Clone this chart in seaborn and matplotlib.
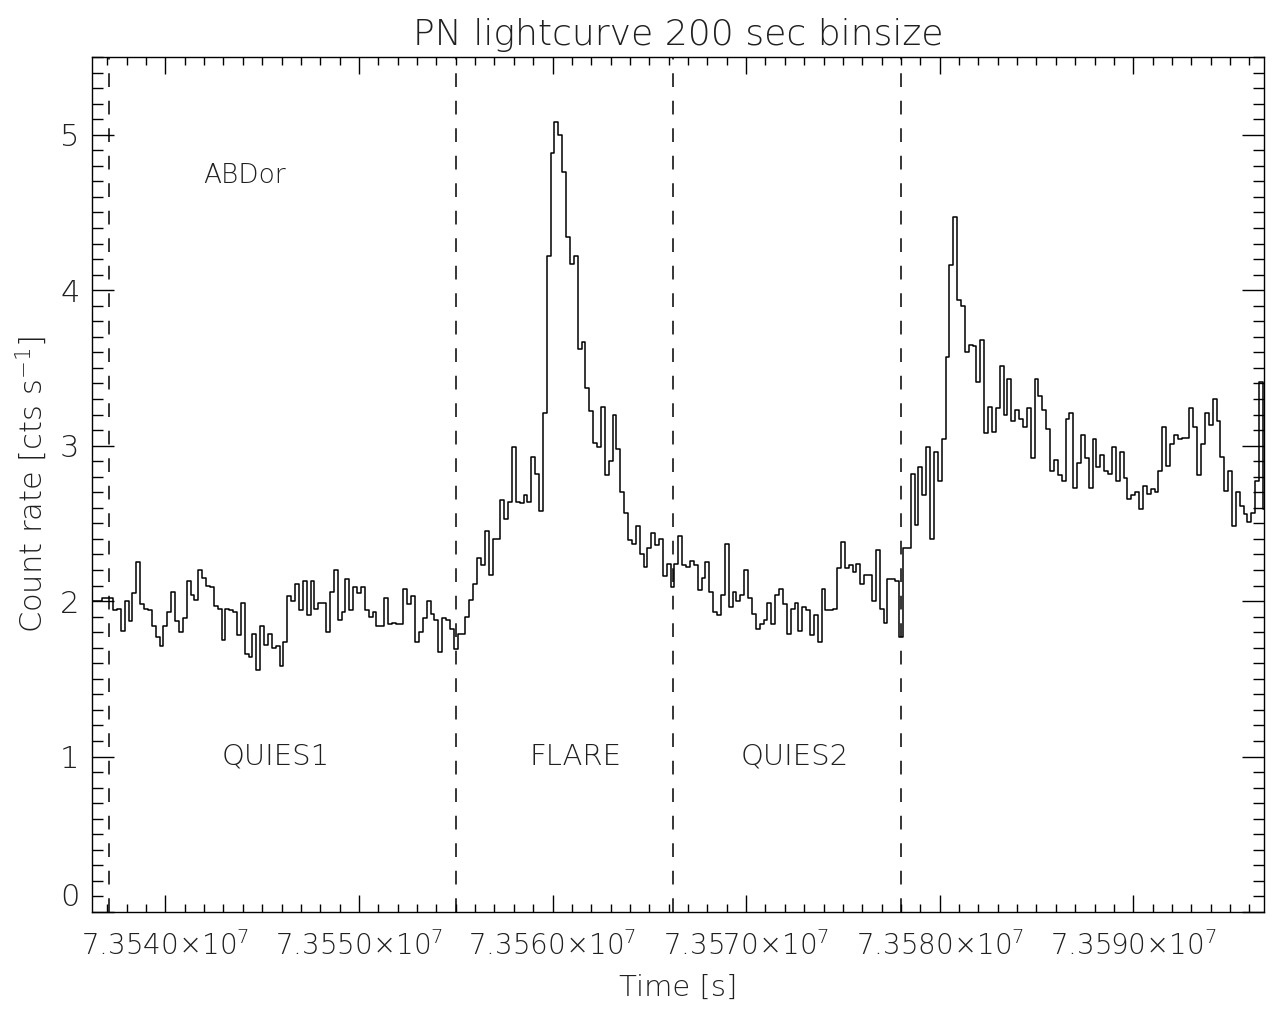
"""PN lightcurve of AB Dor, 200 s bins, redrawn with seaborn."""

import numpy as np
import pandas as pd
import matplotlib

matplotlib.use("Agg")
import matplotlib.pyplot as plt
import matplotlib.ticker as mticker
import seaborn as sns

# bin size of the light curve [s]
bin_size = 200.0
# time of the first data point (lead-in) and start of the regular bins [s]
lead_time = 7.35362e7
first_bin_start = 7.35371e7

# count rates [cts/s], in time order
rate_lead = [2.00, 2.02]
rate_quies1 = [
    1.94, 1.95, 1.81, 2.00, 1.87, 2.05, 2.25, 1.98, 1.95, 1.94,
    1.84, 1.77, 1.71, 1.84, 1.93, 2.06, 1.87, 1.80, 1.89, 2.13,
    2.04, 2.01, 2.20, 2.15, 2.10, 2.09, 1.97, 1.95, 1.75, 1.95,
    1.94, 1.93, 1.78, 1.99, 1.66, 1.64, 1.79, 1.56, 1.84, 1.72,
    1.79, 1.70, 1.71, 1.58, 1.74, 2.03, 2.00, 2.11, 1.94, 2.13,
    1.91, 2.13, 1.95, 1.99, 1.99, 1.80, 2.06, 2.20, 1.88, 1.93,
    2.14, 1.94, 2.09, 2.05, 2.09, 1.94, 1.90, 1.93, 1.84, 1.84,
    2.02, 1.85,
]
rate_flare = [
    1.86, 1.85, 1.85, 2.08, 1.98, 2.03, 1.74, 1.80, 1.89, 2.00,
    1.92, 1.88, 1.67, 1.89, 1.88, 1.82, 1.69, 1.79, 1.79, 1.90,
    2.01, 2.11, 2.28, 2.23, 2.45, 2.17, 2.40, 2.40, 2.65, 2.53,
    2.64, 2.99, 2.64, 2.63, 2.68, 2.64, 2.93, 2.82, 2.58, 3.21,
    4.22, 4.88, 5.08, 5.00, 4.76, 4.34, 4.17, 4.22, 3.62, 3.67,
    3.37, 3.22, 3.02, 2.99, 3.25, 2.81, 2.90, 3.20, 2.98, 2.70,
    2.57, 2.39, 2.37, 2.48, 2.30, 2.22, 2.34, 2.44, 2.36, 2.40,
    2.16, 2.24, 2.09, 2.24, 2.42,
]
rate_quies2 = [
    2.23, 2.22, 2.26, 2.23, 2.07, 2.15, 2.25, 2.06, 1.93, 1.91,
    2.04, 2.37, 1.96, 2.06, 2.00, 2.04, 2.20, 2.02, 1.92, 1.82,
    1.85, 1.88, 1.99, 1.85, 2.04, 2.08, 1.98, 1.79, 1.95, 1.99,
    1.81, 1.96, 1.94, 1.78, 1.91, 1.74, 2.08, 1.94, 1.94, 1.95,
    2.21, 2.38, 2.21, 2.23, 2.19, 2.24, 2.11, 2.17, 2.17, 2.00,
    2.33, 1.95, 1.86, 2.14, 2.14, 2.13, 1.77, 2.34, 2.34, 2.82,
    2.49, 2.86, 2.68, 2.99, 2.40, 2.96, 2.77, 3.04, 3.57, 4.16,
    4.47, 3.94, 3.90, 3.60, 3.65,
]
rate_late = [
    3.64, 3.41, 3.68, 3.08, 3.25, 3.09, 3.24, 3.51, 3.20, 3.43,
    3.16, 3.23, 3.17, 3.12, 3.24, 2.92, 3.43, 3.32, 3.23, 3.11,
    2.84, 2.91, 2.81, 2.77, 3.17, 3.21, 2.73, 2.89, 3.07, 2.92,
    2.73, 3.04, 2.86, 2.94, 2.84, 2.82, 2.99, 2.77, 2.96, 2.79,
    2.66, 2.68, 2.70, 2.59, 2.74, 2.69, 2.72, 2.70, 2.84, 3.12,
    2.87, 3.01, 3.07, 3.04, 3.05, 3.05, 3.24, 3.12, 2.81, 3.01,
    3.21, 3.13, 3.30, 3.16, 2.93, 2.71, 2.84, 2.48, 2.70, 2.61,
    2.56, 2.51, 2.57, 2.77, 3.41, 2.59,
]

# interval boundaries (dashed lines) [s]
boundaries = [7.35371e7, 7.35550e7, 7.35662e7, 7.35780e7]

# interval labels and their positions (time [s], count rate)
interval_names = ["QUIES1", "FLARE", "QUIES2"]
interval_x = [7.35457e7, 7.35612e7, 7.35725e7]
interval_y = [1.0, 1.0, 1.0]
source_name = "ABDor"
source_xy = (7.35441e7, 4.74)

x_range = (7.353621e7, 7.359675e7)
y_range = (0.0, 5.5)

text_color = "#202020"

# build the table for seaborn
rate = rate_lead[1:] + rate_quies1 + rate_flare + rate_quies2 + rate_late
bin_centres = first_bin_start + bin_size * (np.arange(len(rate)) + 0.5)
df = pd.DataFrame(
    {
        "time": np.concatenate([[lead_time], bin_centres]),
        "rate": [rate_lead[0]] + rate,
    }
)

sns.set_style("ticks")
plt.rcParams["font.family"] = ["DejaVu Sans"]
plt.rcParams["font.weight"] = "light"
plt.rcParams["axes.titleweight"] = "light"
plt.rcParams["axes.labelweight"] = "light"
plt.rcParams["mathtext.fontset"] = "dejavusans"

fig, ax = plt.subplots(figsize=(12.78, 10.11), dpi=100)
fig.subplots_adjust(left=0.072, right=0.989, top=0.9436, bottom=0.0979)

sns.lineplot(
    data=df,
    x="time",
    y="rate",
    ax=ax,
    color="black",
    linewidth=1.1,
    drawstyle="steps-mid",
    estimator=None,
    sort=True,
)

# dashed interval boundaries
for t in boundaries:
    ax.axvline(t, color="black", linewidth=1.1, linestyle=(0, (9, 9)))

# labels inside the plot
for name, xx, yy in zip(interval_names, interval_x, interval_y):
    ax.text(xx, yy, name, ha="center", va="center", fontsize=21, color=text_color)
ax.text(*source_xy, source_name, ha="center", va="center", fontsize=19, color=text_color)

ax.set_xlim(x_range)
ax.set_ylim(y_range)

# IDL-like axes: ticks inside on all four sides
ax.xaxis.set_major_locator(mticker.MultipleLocator(10000))
ax.xaxis.set_minor_locator(mticker.MultipleLocator(1000))
ax.yaxis.set_major_locator(mticker.MultipleLocator(1))
ax.yaxis.set_minor_locator(mticker.MultipleLocator(0.1))
ax.xaxis.set_major_formatter(
    mticker.FuncFormatter(lambda v, pos: f"{v / 1e7:.4f}$\\times$10$^7$")
)
ax.yaxis.set_major_formatter(mticker.FuncFormatter(lambda v, pos: f"{v:.0f}"))

ax.tick_params(
    which="both", direction="in", top=True, right=True,
    width=1.0, colors="black", labelcolor=text_color,
)
ax.tick_params(axis="x", which="major", length=12, pad=14, labelsize=20)
ax.tick_params(axis="x", which="minor", length=6)
ax.tick_params(axis="y", which="major", length=16, pad=9, labelsize=22)
ax.tick_params(axis="y", which="minor", length=8)

for spine in ax.spines.values():
    spine.set_visible(True)
    spine.set_linewidth(1.0)
    spine.set_color("black")

ax.set_xlabel("Time [s]", fontsize=21, color=text_color, labelpad=9)
ax.set_ylabel("Count rate [cts s$^{-1}$]", fontsize=22, color=text_color, labelpad=8)
ax.set_title("PN lightcurve 200 sec binsize", fontsize=26, color=text_color, pad=9)

# the zero label sits just above the bottom axis, as in the original
fig.canvas.draw()
for tick in ax.yaxis.get_major_ticks():
    if abs(tick.get_loc()) < 1e-9:
        tick.label1.set_verticalalignment("bottom")

fig.savefig("out.png", dpi=100, facecolor="white")
plt.close(fig)
